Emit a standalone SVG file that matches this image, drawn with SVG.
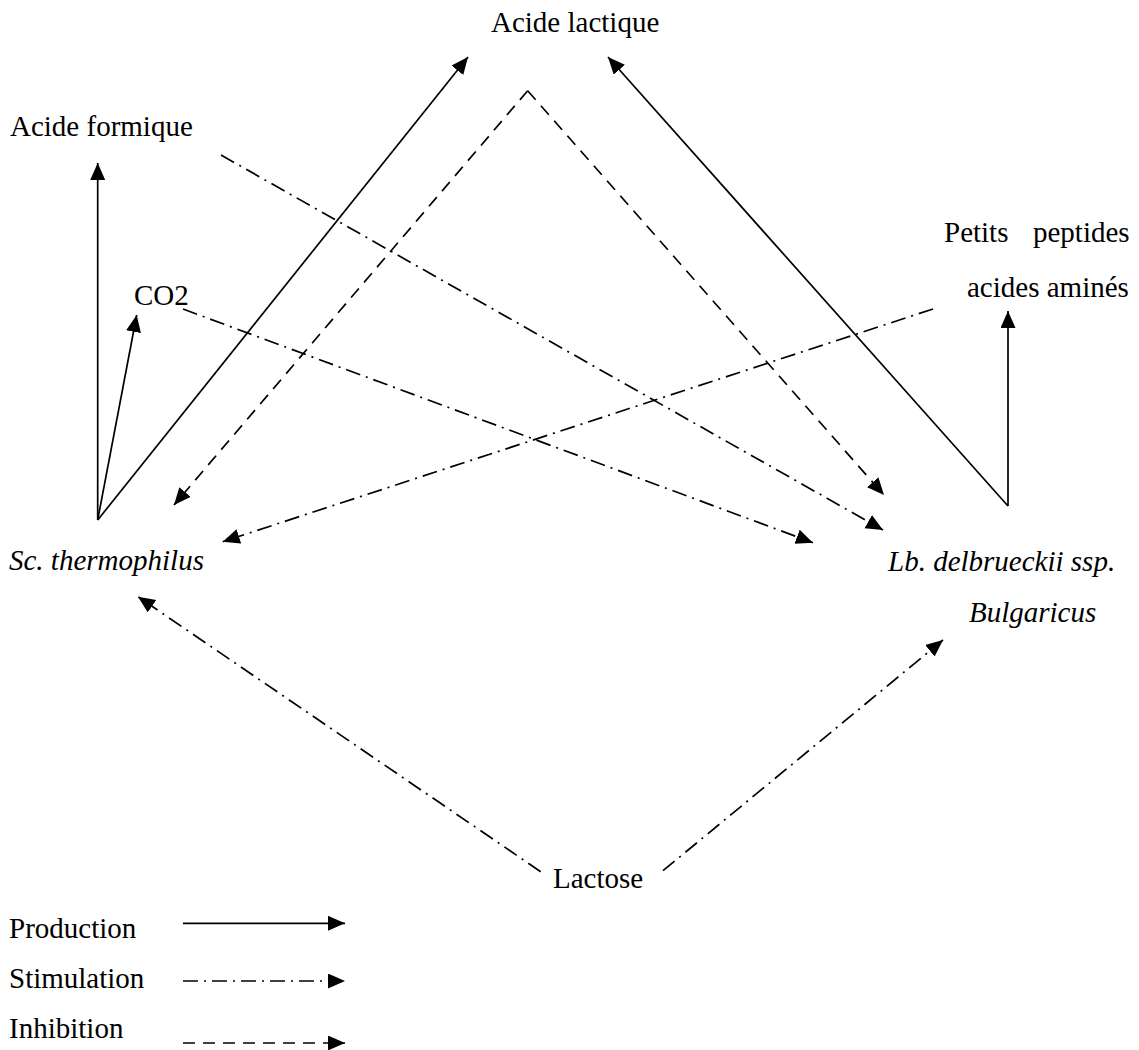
<svg xmlns="http://www.w3.org/2000/svg" width="1139" height="1050" viewBox="0 0 1139 1050">
<style>
  text { font-family: "Liberation Serif", "Times New Roman", serif; font-size: 29px; fill: #000; }
  .it { font-style: italic; }
  .ln { fill: none; stroke: #000; stroke-width: 1.7; }
  .prod { marker-end: url(#ah); }
  .stim { stroke-dasharray: 15 6 2 6; marker-end: url(#ah); }
  .inh { stroke-dasharray: 12 8; marker-end: url(#ah); }
</style>
<defs>
  <marker id="ah" markerUnits="userSpaceOnUse" markerWidth="19" markerHeight="16" refX="17" refY="7.5" orient="auto">
    <path d="M0,0 L17,7.5 L0,15 Z" fill="#000"/>
  </marker>
</defs>
<rect width="1139" height="1050" fill="#fff"/>

<g id="node-acide-lactique"><text x="491" y="32">Acide lactique</text></g>
<g id="node-acide-formique"><text x="10" y="136">Acide formique</text></g>
<g id="node-co2"><text x="134" y="305">CO2</text></g>
<g id="node-peptides"><text y="242"><tspan x="944">Petits</tspan><tspan x="1033">peptides</tspan></text><text x="967" y="297">acides aminés</text></g>
<g id="node-sc"><text class="it" x="9" y="570">Sc. thermophilus</text></g>
<g id="node-lb"><text class="it" x="888" y="571">Lb. delbrueckii ssp.</text><text class="it" x="969" y="622">Bulgaricus</text></g>
<g id="node-lactose"><text x="553" y="888">Lactose</text></g>

<g id="connectors">
  <path class="ln prod" d="M97.7,520 L97.7,163"/>
  <path class="ln prod" d="M97.7,520 L136.7,315"/>
  <path class="ln prod" d="M97.7,520 L468,57"/>
  <path class="ln prod" d="M1008,506 L608,57"/>
  <path class="ln prod" d="M1008,506 L1008,311"/>

  <path class="ln inh" d="M527.7,90.7 L174,505"/>
  <path class="ln inh" d="M527.7,90.7 L884,495"/>

  <path class="ln stim" d="M221,155 L883,530"/>
  <path class="ln stim" d="M183,309 L813,542.7"/>
  <path class="ln stim" d="M933,309 L222.7,541.7"/>
  <path class="ln stim" d="M540.7,871.7 L138,596.7"/>
  <path class="ln stim" d="M663,870.7 L943,640"/>
</g>

<g id="legend">
  <text x="9" y="938">Production</text>
  <path class="ln prod" d="M183,923.3 L345,923.3"/>
  <text x="9" y="988">Stimulation</text>
  <path class="ln stim" d="M183,981 L345,981"/>
  <text x="9" y="1038">Inhibition</text>
  <path class="ln inh" d="M183,1043 L345,1043"/>
</g>
</svg>
